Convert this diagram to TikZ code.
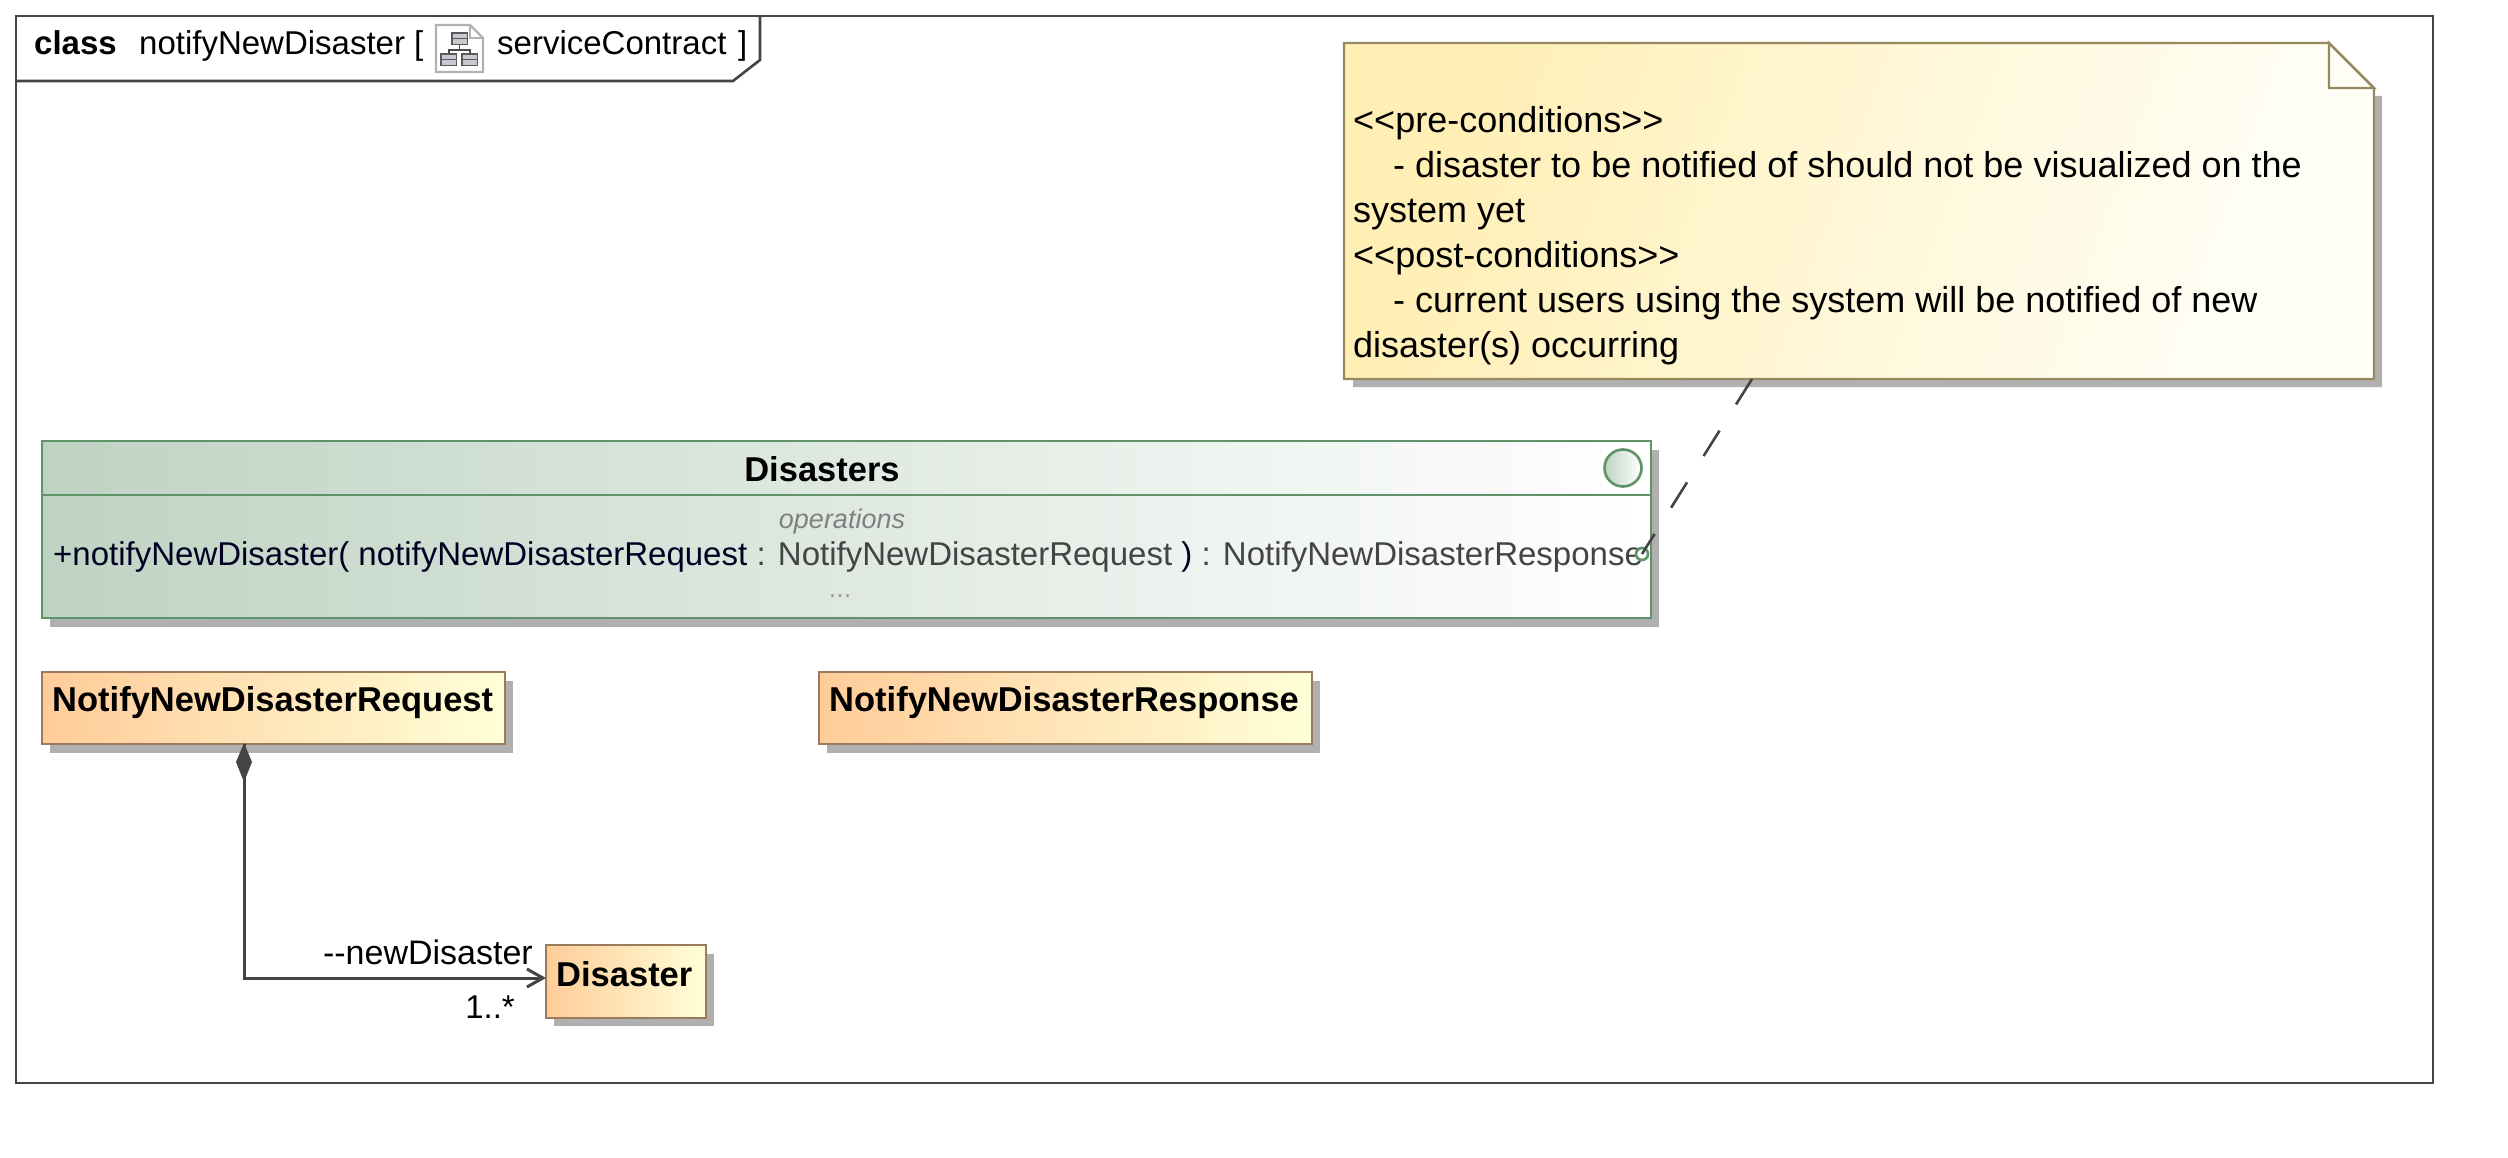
\documentclass[tikz,border=0pt]{standalone}
\usepackage{fontspec}
\setmainfont{Liberation Sans}
\usetikzlibrary{arrows.meta,calc}
\definecolor{frameline}{HTML}{444444}
\definecolor{shadowgray}{HTML}{B0B0B0}
\definecolor{classline}{HTML}{9A7B5C}
\definecolor{noteline}{HTML}{97895D}
\definecolor{faceline}{HTML}{5F9468}
\definecolor{opgray}{HTML}{444444}
\definecolor{opnavy}{HTML}{000022}
\definecolor{classleft}{HTML}{FFCC99}
\definecolor{classright}{HTML}{FFFFD8}
\definecolor{noteleft}{HTML}{FFEFB5}
\definecolor{noteright}{HTML}{FFFFF8}
\definecolor{faceleft}{HTML}{BFD3C3}
\tikzset{
pane/.style={draw, line width=2.6pt, inner sep=0pt, outer sep=0pt},
classbox/.style={pane, draw=classline, left color=classleft, right color=classright,
minimum height=72pt, anchor=north west},
classname/.style={anchor=west, inner sep=0pt, font=\fontsize{34.5}{40}\selectfont\bfseries},
facebox/.style={pane, draw=faceline, left color=faceleft, right color=white,
minimum width=1609pt, minimum height=177pt, anchor=north west},
notebox/.style={left color=noteleft, right color=noteright, shading angle=70, inner sep=0pt, outer sep=0pt,
minimum width=1030pt, minimum height=336pt, anchor=north west},
notetext/.style={anchor=north west, align=left, inner sep=0pt, font=\fontsize{36}{45}\selectfont},
shadowbox/.style={fill=shadowgray, draw=none},
link/.style={draw=frameline, line width=3pt},
tag/.style={inner sep=0pt, font=\fontsize{33}{38}\selectfont},
iconbox/.style={draw=black!65, line width=1.4pt, fill=blue!8!gray!40}
}

\begin{document}
\begin{tikzpicture}[x=1pt,y=-1pt]
\useasboundingbox (0,0) rectangle (2508,1158);
% frame
\coordinate (frametl) at (16,16);
\coordinate (framebr) at (2433,1083);
\draw[link,line width=2.6pt] (frametl) rectangle (framebr);
\draw[link,line width=2.6pt] (16,81)--(733,81)--(760,60)--(760,16);
\node[tag,anchor=base west,font=\fontsize{33}{38}\selectfont\bfseries](kind) at (34,55){class};
\node[tag,anchor=base west](title) at (139,55){notifyNewDisaster [};
\node[tag,anchor=base west](contract) at (497,55){serviceContract};
\node[tag,anchor=base west](closing) at (738,55){]};
% small diagram icon
\draw[fill=white,draw=gray!60,line width=2.4pt] (436,25)--(470,25)--(483,38)--(483,72)--(436,72)--cycle;
\draw[draw=gray!60,line width=2pt] (470,25)--(470,38)--(483,38);
\foreach \x/\y in {452/33,441/54,462/54}
\draw[iconbox] (\x,\y) rectangle ++(15.5,11.5) (\x,\y+5.5)--++(15.5,0);
\draw[draw=black!70,line width=1.4pt] (459.7,45)--(459.7,50) (449,54)--(449,50)--(470,50)--(470,54);
% note
\fill[shadowbox] (1353,379) rectangle (2382,387) (2374,96) rectangle (2382,387);
\node[notebox](note) at (1344,43){};
\fill[white] ($(note.north east)+(-45,0)$)--(note.north east)--($(note.north east)+(0,45)$)--cycle;
\draw[noteline,line width=2.4pt,fill=noteright] ($(note.north east)+(-45,0)$)--($(note.north east)+(-45,45)$)--($(note.north east)+(0,45)$)--cycle;
\draw[noteline,line width=2.4pt] (note.south west)--(note.north west)--($(note.north east)+(-45,0)$)--($(note.north east)+(0,45)$)--(note.south east)--cycle;
\node[notetext](notebody) at (1353,106){<{}<pre-conditions>{}>\\
\hspace*{40pt}- disaster to be notified of should not be visualized on the\\
system yet\\
<{}<post-conditions>{}>\\
\hspace*{40pt}- current users using the system will be notified of new\\
disaster(s) occurring};
% interface
\fill[shadowbox] (50,450) rectangle (1659,627);
\node[facebox](disasters) at (42,441){};
\draw[pane,draw=faceline] (42,495)--(1651,495);
\node[classname,anchor=center](facename) at (822,469){Disasters};
\node[circle,pane,draw=faceline,left color=faceleft,right color=white,minimum size=37pt](badge) at (1623,468){};
\node[tag,anchor=base,font=\fontsize{27}{32}\selectfont\itshape,text=gray](opslabel) at (842,528){operations};
\node[tag,anchor=base west,text=opnavy](opline) at (53,565){+notifyNewDisaster( notifyNewDisasterRequest \textcolor{opgray}{: NotifyNewDisasterRequest} ) \textcolor{opgray}{: NotifyNewDisasterResponse}};
\node[tag,anchor=base,font=\fontsize{27}{32}\selectfont,text=gray!80](more) at (840,597){...};
\node[circle,pane,draw=faceline,fill=white,minimum size=12pt](port) at (1642,554){};
\coordinate (noteend) at (1752,379);
\draw[link,line width=2.6pt,dash pattern=on 30pt off 31pt](noteend)--(port.center);
% classes
\foreach \x/\y/\w in {50/681/463,827/681/493,554/954/160}
\fill[shadowbox] (\x,\y) rectangle ++(\w,72);
\node[classbox,minimum width=463pt](request) at (42,672){};
\node[classname](requestname) at (52,703){NotifyNewDisasterRequest};
\node[classbox,minimum width=493pt](response) at (819,672){};
\node[classname](responsename) at (829,703){NotifyNewDisasterResponse};
\node[classbox,minimum width=160pt,minimum height=73pt](disaster) at (546,945){};
\node[classname](disastername) at (556,974){Disaster};
% composition
\coordinate (elbow) at (244,978);
\draw[link,-{Straight Barb[length=16pt,width=18pt,line width=3pt]}] (request.south -| elbow)--(elbow)--(disaster.west |- elbow);
\fill[frameline] (244,743)--(252,762)--(244,782)--(236,762)--cycle;
\node[tag,anchor=base east,font=\fontsize{34}{38}\selectfont](rolename) at (533,964){-{}-newDisaster};
\node[tag,anchor=base east](multi) at (515,1018){1..*};
\end{tikzpicture}
\end{document}
